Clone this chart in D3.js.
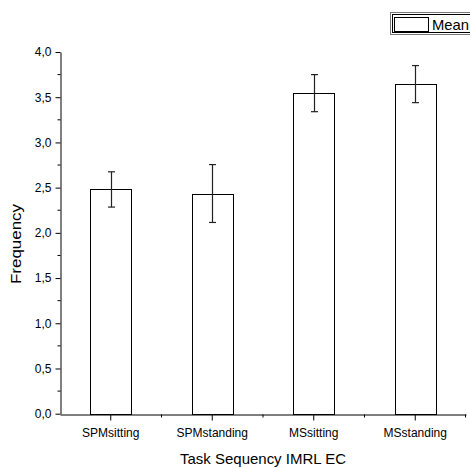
<!DOCTYPE html>
<html>
<head>
<meta charset="utf-8">
<script src="https://cdn.jsdelivr.net/npm/d3@7"></script>
<style>
  body { margin: 0; background: #fff; }
  svg { display: block; font-family: "Liberation Sans", Arial, sans-serif; }
</style>
</head>
<body>
<svg id="chart" width="470" height="468"></svg>
<script>
const categories = ['SPMsitting', 'SPMstanding', 'MSsitting', 'MSstanding'];
const means = [2.48, 2.435, 3.545, 3.645];
const errors = [0.195, 0.32, 0.205, 0.205];
const yTicks = [0, 0.5, 1, 1.5, 2, 2.5, 3, 3.5, 4];

const svg = d3.select('#chart');
const margin = { left: 60, right: 4, top: 52, bottom: 54 };
const width = 470;
const height = 468;

const x = d3.scaleBand()
  .domain(categories)
  .range([margin.left, width - margin.right])
  .padding(0);

const y = d3.scaleLinear()
  .domain([0, 4])
  .range([height - margin.bottom - 0.3, margin.top]);

const fmt = d => d3.format('.1f')(d).replace('.', ',');

// y axis
const yAxis = svg.append('g')
  .attr('transform', `translate(${margin.left + 0.5},0)`)
  .call(d3.axisLeft(y).tickValues(yTicks).tickFormat(fmt).tickSize(5).tickSizeOuter(0));
yAxis.selectAll('text').attr('font-size', 12).attr('fill', '#000').attr('x', -9);
yAxis.select('.domain').attr('stroke', '#000');

// y minor ticks
svg.append('g')
  .selectAll('line')
  .data(d3.range(0.25, 4, 0.5))
  .join('line')
  .attr('x1', margin.left + 0.5 - 3)
  .attr('x2', margin.left + 0.5)
  .attr('y1', d => y(d))
  .attr('y2', d => y(d))
  .attr('stroke', '#000');

// x axis
const baseY = Math.round(y(0)) + 0.5;
const xAxis = svg.append('g')
  .attr('transform', `translate(0,${baseY})`)
  .call(d3.axisBottom(x).tickSize(6).tickSizeOuter(0));
xAxis.select('.domain').attr('stroke', '#000');
xAxis.selectAll('text').attr('font-size', 12).attr('fill', '#000').attr('y', 14);

// x minor ticks at band edges
svg.append('g')
  .selectAll('line')
  .data(categories.slice(1).map(c => x(c)).concat([x.range()[1] - 0.5]))
  .join('line')
  .attr('x1', d => d)
  .attr('x2', d => d)
  .attr('y1', baseY)
  .attr('y2', baseY + 3)
  .attr('stroke', '#000');

// bars
const barW = x.bandwidth() * 0.405;
const bars = svg.append('g');
bars.selectAll('rect')
  .data(categories)
  .join('rect')
  .attr('x', (d, i) => Math.round(x(d) + x.bandwidth() / 2 - barW / 2) + 0.5)
  .attr('y', (d, i) => Math.round(y(means[i])) + 0.5)
  .attr('width', Math.round(barW))
  .attr('height', (d, i) => baseY - Math.round(y(means[i])) - 0.5)
  .attr('fill', '#fff')
  .attr('stroke', '#000')
  .attr('stroke-width', 1);

// error bars
const eb = svg.append('g').attr('stroke', '#222').attr('stroke-width', 1.2);
categories.forEach((c, i) => {
  const cx = Math.round(x(c) + x.bandwidth() / 2) + 0.5;
  const top = y(means[i] + errors[i]);
  const bot = y(means[i] - errors[i]);
  eb.append('line').attr('x1', cx).attr('x2', cx).attr('y1', top).attr('y2', bot);
  eb.append('line').attr('x1', cx - 3.5).attr('x2', cx + 3.5).attr('y1', top).attr('y2', top);
  eb.append('line').attr('x1', cx - 3.5).attr('x2', cx + 3.5).attr('y1', bot).attr('y2', bot);
});

// axis titles
svg.append('text')
  .attr('x', 263)
  .attr('y', 464)
  .attr('text-anchor', 'middle')
  .attr('font-size', 15)
  .attr('textLength', 166)
  .attr('lengthAdjust', 'spacingAndGlyphs')
  .text('Task Sequency IMRL EC');

svg.append('text')
  .attr('transform', 'translate(21,244) rotate(-90)')
  .attr('text-anchor', 'middle')
  .attr('font-size', 14)
  .attr('textLength', 80)
  .attr('lengthAdjust', 'spacingAndGlyphs')
  .text('Frequency');

// legend
const lg = svg.append('g');
lg.append('rect')
  .attr('x', 390.5).attr('y', 12.5).attr('width', 90).attr('height', 22)
  .attr('fill', '#fff').attr('stroke', '#777');
lg.append('rect')
  .attr('x', 392.5).attr('y', 14.5).attr('width', 90).attr('height', 18)
  .attr('fill', 'none').attr('stroke', '#000');
lg.append('rect')
  .attr('x', 394.5).attr('y', 17.5).attr('width', 34).attr('height', 14)
  .attr('fill', '#fff').attr('stroke', '#000');
lg.append('text')
  .attr('x', 432).attr('y', 30)
  .attr('font-size', 15)
  .attr('textLength', 37)
  .attr('lengthAdjust', 'spacingAndGlyphs')
  .text('Mean');
</script>
</body>
</html>
